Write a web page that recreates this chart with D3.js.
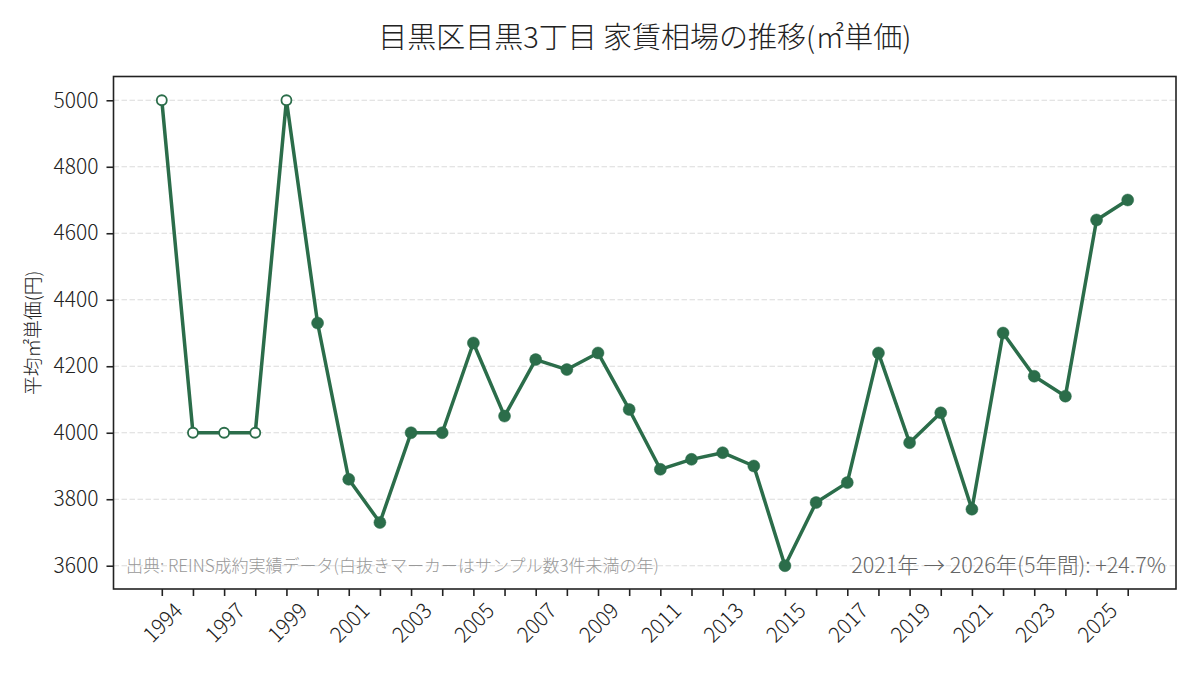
<!DOCTYPE html>
<html lang="ja">

<head>
    <meta charset="UTF-8">
    <title>目黒区目黒3丁目 家賃相場の推移</title>
    <style>
        body { margin: 0; background: #fff; }
        svg text { font-family: "Noto Sans CJK JP", "Noto Sans", sans-serif; font-weight: 300; }
    </style>
</head>

<body>
    <script type='text/javascript' src='https://d3js.org/d3.v7.min.js'></script>

    <script>
        // years on the x axis (categorical, 1995 has no data)
        const years = ['1994', '1996', '1997', '1998', '1999', '2000', '2001', '2002', '2003', '2004',
            '2005', '2006', '2007', '2008', '2009', '2010', '2011', '2012', '2013', '2014', '2015',
            '2016', '2017', '2018', '2019', '2020', '2021', '2022', '2023', '2024', '2025', '2026'];

        // average price per m2 (yen)
        const prices = [5000, 4000, 4000, 4000, 5000, 4330, 3860, 3730, 4000, 4000,
            4270, 4050, 4220, 4190, 4240, 4070, 3890, 3920, 3940, 3900, 3600,
            3790, 3850, 4240, 3970, 4060, 3770, 4300, 4170, 4110, 4640, 4700];

        // true = fewer than 3 samples (hollow marker)
        const fewSamples = [true, true, true, true, true, false, false, false, false, false,
            false, false, false, false, false, false, false, false, false, false, false,
            false, false, false, false, false, false, false, false, false, false, false];

        const yTicks = [3600, 3800, 4000, 4200, 4400, 4600, 4800, 5000];

        const title = '目黒区目黒3丁目 家賃相場の推移(㎡単価)';
        const yLabel = '平均㎡単価(円)';
        const sourceNote = '出典: REINS成約実績データ(白抜きマーカーはサンプル数3件未満の年)';

        const green = '#2b6d4a';
        const W = 1200, H = 675;
        const m = { left: 113.5, right: 1176, top: 76.5, bottom: 589 };

        const data = years.map((d, i) => ({ year: d, v: prices[i], few: fewSamples[i] }));

        let svg = d3.select('body').append('svg').attr('width', W).attr('height', H);

        var x = d3.scalePoint().domain(years).range([m.left, m.right]).padding(1.55);
        var y = d3.scaleLinear().domain([3530, 5070]).range([m.bottom, m.top + 0.5]);

        // grid
        svg.append('g')
            .selectAll('line')
            .data(yTicks)
            .enter().append('line')
            .attr('x1', m.left).attr('x2', m.right)
            .attr('y1', d => y(d)).attr('y2', d => y(d))
            .style('stroke', '#dcdcdc')
            .style('stroke-width', 1.2)
            .style('stroke-dasharray', '5.5,2.5');

        // y axis
        let yAxis = svg.append('g')
            .attr('transform', `translate(${m.left},0)`)
            .call(d3.axisLeft(y).tickValues(yTicks).tickSize(7).tickPadding(8).tickFormat(d3.format('d')));
        yAxis.select('.domain').remove();
        yAxis.selectAll('line').style('stroke', '#222').style('stroke-width', 1.6);
        yAxis.selectAll('text').style('font-size', '21px').style('fill', '#222');

        // x axis
        let xAxis = svg.append('g')
            .attr('transform', `translate(0,${m.bottom})`)
            .call(d3.axisBottom(x).tickSize(7).tickFormat(''));
        xAxis.select('.domain').remove();
        xAxis.selectAll('line').style('stroke', '#222').style('stroke-width', 1.6);

        // labels on every other tick, rotated 45 degrees, bbox centred on the tick
        svg.append('g')
            .selectAll('text')
            .data(years.filter((d, i) => i % 2 === 0))
            .enter().append('text')
            .text(d => d)
            .style('font-size', '21px')
            .style('fill', '#222')
            .attr('text-anchor', 'middle')
            .attr('dominant-baseline', 'central')
            .attr('transform', function (d) {
                const L = this.getComputedTextLength();
                const off = (L + 16) / (2 * Math.SQRT2);
                return `translate(${x(d)},${m.bottom + 11 + off}) rotate(-45)`;
            });

        // frame
        svg.append('rect')
            .attr('x', m.left).attr('y', m.top)
            .attr('width', m.right - m.left).attr('height', m.bottom - m.top)
            .style('fill', 'none').style('stroke', '#222').style('stroke-width', 1.6);

        // line
        const line = d3.line().x(d => x(d.year)).y(d => y(d.v));
        svg.append('path')
            .datum(data)
            .attr('d', line)
            .style('fill', 'none')
            .style('stroke', green)
            .style('stroke-width', 3.5)
            .style('stroke-linejoin', 'round');

        svg.selectAll('.point')
            .data(data)
            .enter().append('circle')
            .attr('class', 'point')
            .attr('cx', d => x(d.year))
            .attr('cy', d => y(d.v))
            .attr('r', d => d.few ? 5 : 6)
            .style('fill', d => d.few ? '#fff' : green)
            .style('stroke', green)
            .style('stroke-width', d => d.few ? 1.8 : 0.5);

        // title
        svg.append('text')
            .attr('x', (m.left + m.right) / 2).attr('y', 48)
            .attr('text-anchor', 'middle')
            .style('font-size', '29px')
            .style('fill', '#222')
            .text(title);

        // y label
        svg.append('text')
            .attr('transform', `translate(40,${(m.top + m.bottom) / 2}) rotate(-90)`)
            .attr('text-anchor', 'middle')
            .style('font-size', '18.75px')
            .style('fill', '#222')
            .text(yLabel);

        // notes inside the axes
        svg.append('text')
            .attr('x', 126).attr('y', 572)
            .style('font-size', '17px')
            .style('fill', '#999')
            .text(sourceNote);

        const first = data.find(d => d.year === '2021'), last = data[data.length - 1];
        const pct = ((last.v / first.v - 1) * 100).toFixed(1);
        svg.append('text')
            .attr('x', 1166).attr('y', 573)
            .attr('text-anchor', 'end')
            .style('font-size', '21.5px')
            .style('fill', '#666')
            .text(`${first.year}年 → ${last.year}年(${+last.year - +first.year}年間): +${pct}%`);

        console.log('ready..');
    </script>
</body>

</html>
